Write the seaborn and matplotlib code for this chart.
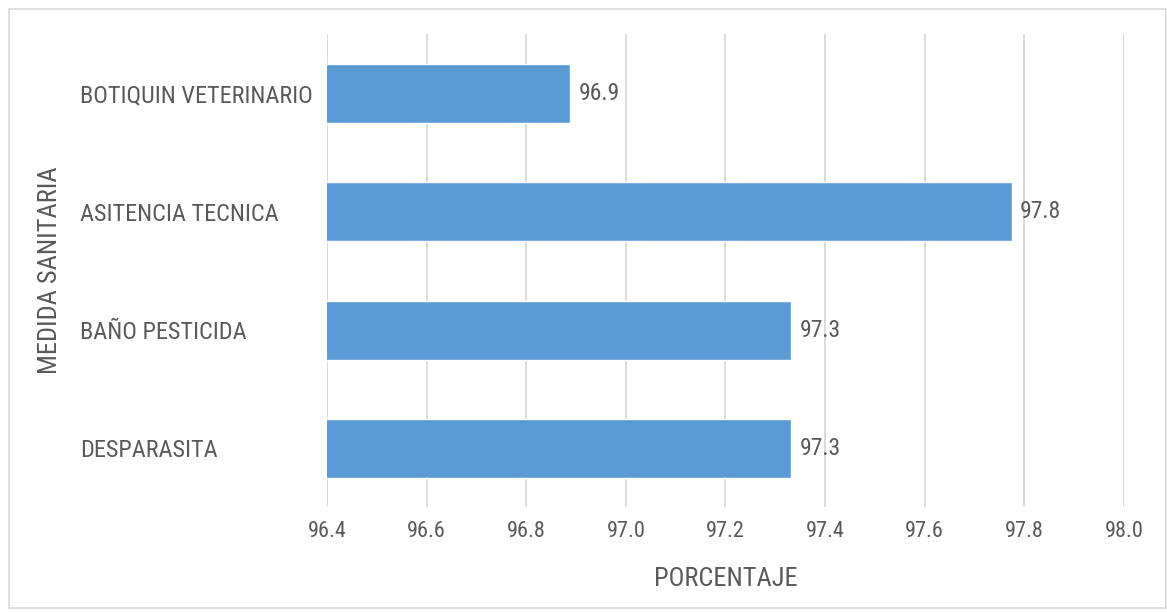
import matplotlib
matplotlib.use("Agg")
import matplotlib.pyplot as plt
import seaborn as sns
import pandas as pd
from matplotlib.patches import Rectangle

categorias = ["BOTIQUIN VETERINARIO", "ASITENCIA TECNICA", "BAÑO PESTICIDA", "DESPARASITA"]
porcentajes = [96.888, 97.775, 97.332, 97.332]
x_ticks = [96.4, 96.6, 96.8, 97.0, 97.2, 97.4, 97.6, 97.8, 98.0]

df = pd.DataFrame({"MEDIDA SANITARIA": categorias, "PORCENTAJE": porcentajes})

sns.set_theme(style="white")
plt.rcParams["font.family"] = ["Liberation Sans Narrow", "Roboto Condensed", "Liberation Sans", "DejaVu Sans"]

TEXT = "#595959"
BAR = "#5B9BD5"
GRID = "#D9D9D9"

fig = plt.figure(figsize=(11.67, 6.12), dpi=100)
ax = fig.add_axes([0.2802, 0.1708, 0.6829, 0.7729])

# outer chart frame
fig.patches.append(Rectangle((9 / 1167, 4 / 612), 1157 / 1167, 599 / 612,
                             transform=fig.transFigure, fill=False,
                             edgecolor="#D9D9D9", linewidth=1.2))

sns.barplot(data=df, y="MEDIDA SANITARIA", x="PORCENTAJE", orient="h",
            color=BAR, saturation=1, width=0.5, ax=ax, zorder=3)

ax.set_xlim(96.4, 98.0)
ax.set_xticks(x_ticks)
ax.set_xticklabels([f"{t:.1f}" for t in x_ticks])
ax.grid(axis="x", color=GRID, linewidth=1.3, zorder=0)
ax.grid(axis="y", visible=False)
for s in ax.spines.values():
    s.set_visible(False)

ax.tick_params(axis="x", length=0, labelsize=16, labelcolor=TEXT, pad=10)
ax.tick_params(axis="y", length=0, labelsize=17.5, labelcolor=TEXT)
for lbl in ax.get_yticklabels():
    lbl.set_horizontalalignment("left")
# category names start ~247 px left of the plotting area
ax.tick_params(axis="y", pad=247 * 72 / 100)

ax.set_xlabel("PORCENTAJE", fontsize=19, color=TEXT, labelpad=18)
ax.set_ylabel("")
fig.text(50 / 1167, 1 - 270 / 612, "MEDIDA SANITARIA", rotation=90,
         ha="center", va="center", fontsize=19, color=TEXT)

for cont in ax.containers:
    ax.bar_label(cont, fmt="%.1f", padding=6, fontsize=17, color=TEXT)

fig.savefig("out.png", dpi=100)
